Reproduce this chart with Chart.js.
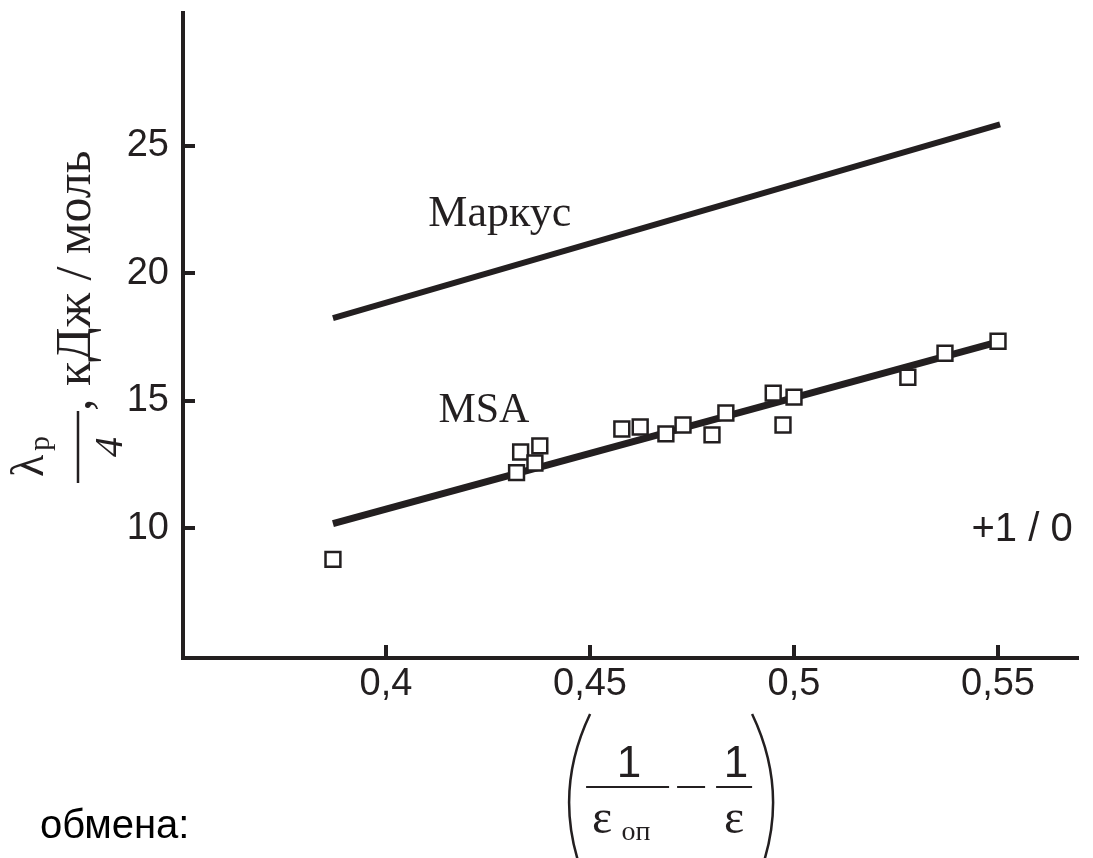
<!DOCTYPE html>
<html>
<head>
<meta charset="utf-8">
<script src="https://cdn.jsdelivr.net/npm/chart.js@4/dist/chart.umd.min.js"></script>
<style>
  html, body { margin: 0; padding: 0; background: #fff; }
</style>
</head>
<body>
<canvas id="chart" width="1093" height="858"></canvas>
<script>
// Axis ticks
const xTicks = [0.4, 0.45, 0.5, 0.55];
const yTicks = [10, 15, 20, 25];

// Measured points (+1 / 0)
const msaX = [0.387, 0.432, 0.433, 0.4377, 0.4365, 0.4578, 0.4623, 0.4686, 0.4728,
              0.4799, 0.4833, 0.4949, 0.5, 0.4973, 0.5279, 0.537, 0.55];
const msaY = [8.78, 12.18, 12.99, 13.23, 12.56, 13.89, 13.97, 13.70, 14.05,
              13.66, 14.52, 15.30, 15.14, 14.05, 15.92, 16.86, 17.33];

// Theory lines (end points)
const fitX = [0.387, 0.5505];
const msaFitY = [10.18, 17.33];
const marcusFitY = [18.24, 25.83];

const ink = '#231f20';

// Extra decoration: inward ticks, curve labels, axis titles
const decor = {
  id: 'decor',
  afterDraw(chart) {
    const { ctx, chartArea, scales: { x, y } } = chart;
    const axisX = chartArea.left - 2;
    const axisY = chartArea.bottom + 2;
    ctx.save();
    ctx.strokeStyle = ink;
    ctx.fillStyle = ink;

    // tick marks pointing inside
    ctx.lineWidth = 4;
    ctx.beginPath();
    xTicks.forEach(v => {
      const px = Math.round(x.getPixelForValue(v));
      ctx.moveTo(px, axisY);
      ctx.lineTo(px, axisY - 15);
    });
    yTicks.forEach(v => {
      const py = Math.round(y.getPixelForValue(v));
      ctx.moveTo(axisX, py);
      ctx.lineTo(axisX + 14, py);
    });
    ctx.stroke();

    // curve labels
    ctx.textAlign = 'center';
    ctx.textBaseline = 'middle';
    ctx.font = '44px "Liberation Serif"';
    ctx.fillText('Маркус', x.getPixelForValue(0.4279), y.getPixelForValue(22.3));
    ctx.font = '42px "Liberation Serif"';
    ctx.fillText('MSA', x.getPixelForValue(0.424), y.getPixelForValue(14.6));
    ctx.font = '40px "Liberation Sans"';
    ctx.fillText('+1 / 0', x.getPixelForValue(0.5559), y.getPixelForValue(9.95));

    // y title: λp/4, кДж / моль (rotated)
    ctx.save();
    ctx.translate(90, 483);
    ctx.rotate(-Math.PI / 2);
    ctx.textBaseline = 'alphabetic';
    ctx.lineWidth = 2.5;
    ctx.beginPath();
    ctx.moveTo(0, -12);
    ctx.lineTo(72, -12);
    ctx.stroke();
    ctx.textAlign = 'left';
    ctx.font = '46px "Liberation Serif"';
    ctx.fillText('λ', 6, -47);
    ctx.font = '30px "Liberation Serif"';
    ctx.fillText('р', 32, -41);
    ctx.textAlign = 'center';
    ctx.font = 'italic 40px "Liberation Serif"';
    ctx.fillText('4', 36, 32);
    ctx.textAlign = 'left';
    ctx.font = '50px "Liberation Serif"';
    ctx.fillText(', кДж / моль', 72, 0);
    ctx.restore();

    // x title: (1/ε_оп − 1/ε)
    const ax = x.getPixelForValue(0.4711);
    ctx.lineWidth = 2.5;
    ctx.beginPath();
    ctx.moveTo(ax - 86, 714);
    ctx.quadraticCurveTo(ax - 128, 802, ax - 86, 892);
    ctx.moveTo(ax + 76, 714);
    ctx.quadraticCurveTo(ax + 118, 802, ax + 76, 892);
    ctx.stroke();
    ctx.lineWidth = 2;
    ctx.beginPath();
    ctx.moveTo(ax - 90, 787); ctx.lineTo(ax - 7, 787);
    ctx.moveTo(ax + 1, 787); ctx.lineTo(ax + 29, 787);
    ctx.moveTo(ax + 40, 787); ctx.lineTo(ax + 76, 787);
    ctx.stroke();
    ctx.textAlign = 'center';
    ctx.textBaseline = 'alphabetic';
    ctx.font = '44px "Liberation Sans"';
    ctx.fillText('1', ax - 47, 777);
    ctx.fillText('1', ax + 60, 777);
    ctx.font = '48px "Liberation Serif"';
    ctx.fillText('ε', ax - 74, 833);
    ctx.fillText('ε', ax + 58, 833);
    ctx.font = '28px "Liberation Serif"';
    ctx.fillText('оп', ax - 40, 840);

    // caption fragment at bottom left
    ctx.textAlign = 'left';
    ctx.font = '40px "Liberation Sans"';
    ctx.fillStyle = '#000';
    ctx.fillText('обмена:', 40, 838);
    ctx.restore();
  }
};

new Chart(document.getElementById('chart'), {
  type: 'scatter',
  data: {
    datasets: [
      {
        label: '+1 / 0',
        data: msaX.map((v, i) => ({ x: v, y: msaY[i] })),
        pointStyle: 'rect',
        pointRadius: 10.5,
        pointBorderWidth: 2.5,
        pointBackgroundColor: '#fff',
        pointBorderColor: ink
      },
      {
        label: 'MSA',
        data: fitX.map((v, i) => ({ x: v, y: msaFitY[i] })),
        showLine: true,
        borderColor: ink,
        borderWidth: 7,
        pointRadius: 0
      },
      {
        label: 'Маркус',
        data: fitX.map((v, i) => ({ x: v, y: marcusFitY[i] })),
        showLine: true,
        borderColor: ink,
        borderWidth: 6,
        pointRadius: 0
      }
    ]
  },
  options: {
    responsive: false,
    animation: false,
    devicePixelRatio: 1,
    layout: { padding: { top: 10, right: 15, left: 0, bottom: 0 } },
    plugins: { legend: { display: false }, tooltip: { enabled: false } },
    scales: {
      x: {
        type: 'linear',
        min: 0.35025,
        max: 0.5696,
        grid: { display: false, drawTicks: false },
        border: { display: true, width: 4, color: ink },
        afterFit: s => { s.height = 200; s.paddingLeft = 0; s.paddingRight = 0; },
        afterBuildTicks: s => { s.ticks = xTicks.map(v => ({ value: v })); },
        ticks: {
          color: ink,
          padding: 4,
          font: { family: '"Liberation Sans"', size: 38 },
          callback: v => String(v).replace('.', ',')
        }
      },
      y: {
        type: 'linear',
        min: 4.914,
        max: 30.2,
        grid: { display: false, drawTicks: false },
        border: { display: true, width: 4, color: ink },
        afterFit: s => { s.width = 183; s.paddingTop = 0; s.paddingBottom = 0; },
        afterBuildTicks: s => { s.ticks = yTicks.map(v => ({ value: v })); },
        ticks: {
          color: ink,
          padding: 14,
          font: { family: '"Liberation Sans"', size: 38 }
        }
      }
    }
  },
  plugins: [decor]
});
</script>
</body>
</html>
